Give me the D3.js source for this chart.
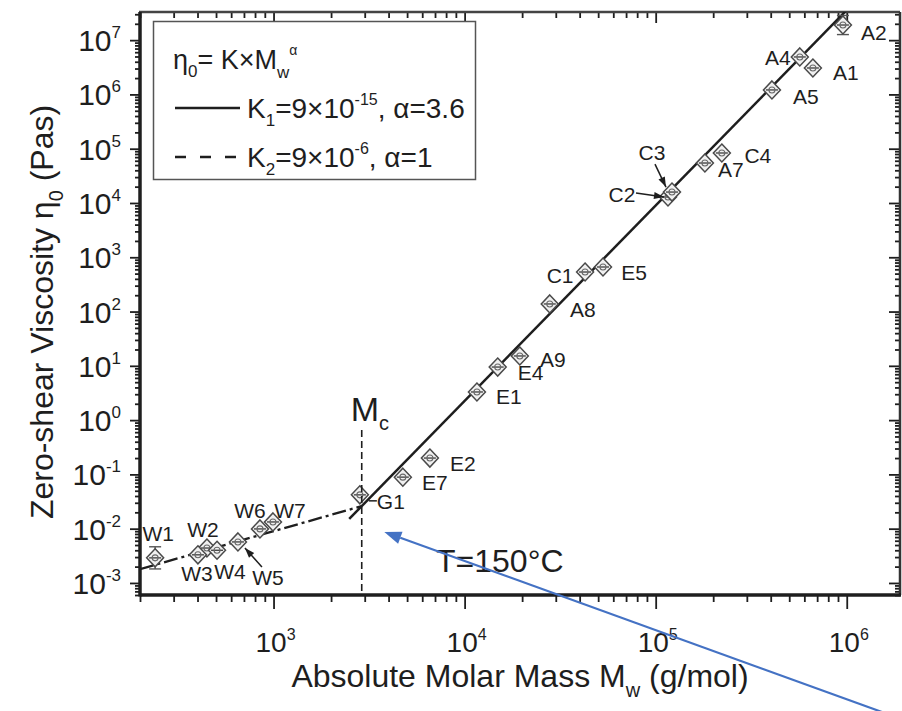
<!DOCTYPE html>
<html>
<head>
<meta charset="utf-8">
<script src="https://cdn.jsdelivr.net/npm/d3@7"></script>
<style>
  body { margin: 0; background: #fff; }
  svg { display: block; font-family: "Liberation Sans", Arial, sans-serif; }
</style>
</head>
<body>
<div id="chart"></div>
<script>
// samples
const sampleNames = ["W1", "W2", "W3", "W4", "W5", "W6", "W7", "G1", "E7", "E2", "E1", "E4",
                     "A9", "A8", "C1", "E5", "C2", "C3", "A7", "C4", "A5", "A4", "A1", "A2"];
const molarMass = [240, 448, 402, 506, 651, 849, 993, 2830, 4750, 6580, 11600, 14900,
                   19450, 27900, 42700, 53000, 116000, 121700, 181000, 222000, 406000, 568000, 665000, 955000];
const viscosity = [2.9e-3, 4.4e-3, 3.3e-3, 4.0e-3, 5.7e-3, 9.9e-3, 1.33e-2, 4.2e-2, 8.9e-2, 0.20, 3.3, 9.5,
                   15.2, 138, 535, 662, 12900, 15900, 54500, 83400, 1.21e6, 4.9e6, 3.07e6, 1.9e7];
const errorFactor = [1.6, 1, 1, 1, 1, 1, 1, 1, 1, 1, 1, 1,
                     1, 1, 1, 1, 1, 1, 1, 1, 1, 1, 1, 1.5];

// fits eta0 = K * Mw^alpha
const K1 = 9e-15, alpha1 = 3.6;
const K2 = 9e-6, alpha2 = 1;

const xTickExps = [3, 4, 5, 6];
const yTickExps = [-3, -2, -1, 0, 1, 2, 3, 4, 5, 6, 7];

// label placement (pixels from marker centre)
const labelOffset = {
  W1: [3, -24], W2: [-4, -19], W3: [-1, 19], W4: [13, 21], W5: [30, 36], W6: [-10, -18], W7: [17, -11],
  G1: [31, 7], E7: [32, 5], E2: [33, 5], E1: [32, 5], E4: [33, 5], A9: [33, 4], A8: [33, 6],
  C1: [-25, 3], E5: [31, 6], C2: [-46, -2], C3: [-20, -40], A7: [26, 6], C4: [36, 3],
  A5: [34, 7], A4: [-22, 1], A1: [33, 5], A2: [31, 7]
};
const labelArrow = { W5: [[24, 25], [7, 6]], C2: [[-32, -4], [-4, 0]], C3: [[-17, -28], [-6, -5]] };

const width = 902, height = 711;
const plot = {left: 140, right: 900, top: 12, bottom: 595};
const ink = "#1e1e1e";

const svg = d3.select("#chart").append("svg")
  .attr("width", width)
  .attr("height", height);

const x = d3.scaleLog().domain([200, 1.9e6]).range([plot.left, plot.right]);
const y = d3.scaleLog().domain([6e-4, 3.3e7]).range([plot.bottom, plot.top]);

function minorValues(scale) {
  const [a, b] = scale.domain();
  const out = [];
  for (let k = Math.floor(Math.log10(a)); k <= Math.ceil(Math.log10(b)); k++) {
    for (let m = 2; m <= 9; m++) {
      const v = m * Math.pow(10, k);
      if (v >= a && v <= b) out.push(v);
    }
  }
  return out;
}
const xMajor = xTickExps.map(e => Math.pow(10, e));
const yMajor = yTickExps.map(e => Math.pow(10, e));

svg.append("defs").append("clipPath").attr("id", "clip")
  .append("rect")
  .attr("x", plot.left).attr("y", plot.top)
  .attr("width", plot.right - plot.left).attr("height", plot.bottom - plot.top);

// ticks
function drawAxis(axis, tx, ty) {
  const g = svg.append("g")
    .attr("transform", "translate(" + tx + "," + ty + ")")
    .call(axis);
  g.select(".domain").remove();
  g.selectAll("line").attr("stroke", ink).attr("stroke-width", 1.8);
  g.selectAll("text").remove();
}
drawAxis(d3.axisBottom(x).tickValues(xMajor).tickSize(14), 0, plot.bottom);
drawAxis(d3.axisBottom(x).tickValues(minorValues(x)).tickSize(7), 0, plot.bottom);
drawAxis(d3.axisTop(x).tickValues(xMajor).tickSize(-11), 0, plot.top);
drawAxis(d3.axisTop(x).tickValues(minorValues(x)).tickSize(-6), 0, plot.top);
drawAxis(d3.axisLeft(y).tickValues(yMajor).tickSize(10), plot.left, 0);
drawAxis(d3.axisLeft(y).tickValues(minorValues(y)).tickSize(5), plot.left, 0);
drawAxis(d3.axisRight(y).tickValues(yMajor).tickSize(-11), plot.right, 0);
drawAxis(d3.axisRight(y).tickValues(minorValues(y)).tickSize(-5), plot.right, 0);

// frame
svg.append("line").attr("x1", plot.left - 1).attr("x2", plot.right).attr("y1", plot.top).attr("y2", plot.top)
  .attr("stroke", "#444").attr("stroke-width", 2.5);
svg.append("line").attr("x1", plot.right).attr("x2", plot.right).attr("y1", plot.top).attr("y2", plot.bottom)
  .attr("stroke", "#333").attr("stroke-width", 2.5);
svg.append("line").attr("x1", plot.left).attr("x2", plot.left).attr("y1", plot.top).attr("y2", plot.bottom + 1.5)
  .attr("stroke", ink).attr("stroke-width", 3.5);
svg.append("line").attr("x1", plot.left).attr("x2", plot.right + 1).attr("y1", plot.bottom).attr("y2", plot.bottom)
  .attr("stroke", ink).attr("stroke-width", 3.5);

// tick labels
const xLab = svg.append("g").attr("fill", ink);
xTickExps.forEach(e => {
  const t = xLab.append("text")
    .attr("x", x(Math.pow(10, e)) - 18)
    .attr("y", plot.bottom + 57)
    .attr("font-size", 28);
  t.append("tspan").text("10");
  t.append("tspan").attr("dy", -12).attr("font-size", 16).text(e);
});
const yLab = svg.append("g").attr("fill", ink);
yTickExps.forEach(e => {
  const t = yLab.append("text")
    .attr("x", plot.left - 19)
    .attr("y", y(Math.pow(10, e)) + 11)
    .attr("text-anchor", "end")
    .attr("font-size", 30);
  t.append("tspan").text("10");
  t.append("tspan").attr("dy", -13).attr("font-size", 17).text(e);
});

// axis titles
const xTitle = svg.append("text")
  .attr("x", (plot.left + plot.right) / 2)
  .attr("y", 687)
  .attr("text-anchor", "middle")
  .attr("font-size", 32)
  .attr("fill", ink);
xTitle.append("tspan").text("Absolute Molar Mass M");
xTitle.append("tspan").attr("dy", 10).attr("font-size", 20).text("w");
xTitle.append("tspan").attr("dy", -10).text(" (g/mol)");

const yTitle = svg.append("text")
  .attr("transform", "translate(53," + 312 + ") rotate(-90)")
  .attr("text-anchor", "middle")
  .attr("font-size", 32)
  .attr("fill", ink);
yTitle.append("tspan").text("Zero-shear Viscosity \u03b7");
yTitle.append("tspan").attr("dy", 10).attr("font-size", 20).text("0");
yTitle.append("tspan").attr("dy", -10).text(" (Pas)");

// fit lines
const Mc = Math.pow(K2 / K1, 1 / (alpha1 - alpha2));
const fitLine = d3.line().x(d => x(d[0])).y(d => y(d[1]));
const plotArea = svg.append("g").attr("clip-path", "url(#clip)");

plotArea.append("path")
  .datum([200, Mc].map(m => [m, K2 * Math.pow(m, alpha2)]))
  .attr("d", fitLine)
  .attr("fill", "none")
  .attr("stroke", ink)
  .attr("stroke-width", 2.3)
  .attr("stroke-dasharray", "14,4,3,4");

plotArea.append("path")
  .datum([Mc * 0.86, 2e6].map(m => [m, K1 * Math.pow(m, alpha1)]))
  .attr("d", fitLine)
  .attr("fill", "none")
  .attr("stroke", ink)
  .attr("stroke-width", 2.5);

// Mc marker line
svg.append("line")
  .attr("x1", x(Mc)).attr("x2", x(Mc))
  .attr("y1", 430).attr("y2", plot.bottom)
  .attr("stroke", ink).attr("stroke-width", 1.6)
  .attr("stroke-dasharray", "7,4");
const mcText = svg.append("text")
  .attr("x", x(Mc) - 11)
  .attr("y", 421)
  .attr("font-size", 34)
  .attr("fill", ink);
mcText.append("tspan").text("M");
mcText.append("tspan").attr("dy", 9).attr("font-size", 20).text("c");

// samples
const samples = sampleNames.map((name, i) => ({
  name: name, m: molarMass[i], eta: viscosity[i], err: errorFactor[i]
}));

const marks = plotArea.selectAll(".sample")
  .data(samples)
  .join("g")
  .attr("class", "sample")
  .attr("transform", d => "translate(" + x(d.m) + "," + y(d.eta) + ")");

marks.filter(d => d.err > 1).each(function(d) {
  const g = d3.select(this);
  const up = y(d.eta * d.err) - y(d.eta);
  const dn = y(d.eta / d.err) - y(d.eta);
  g.append("line").attr("x1", 0).attr("x2", 0).attr("y1", up).attr("y2", dn)
    .attr("stroke", "#555").attr("stroke-width", 1.4);
  [up, dn].forEach(v => g.append("line").attr("x1", -6).attr("x2", 6).attr("y1", v).attr("y2", v)
    .attr("stroke", "#555").attr("stroke-width", 1.4));
});
marks.append("path")
  .attr("d", "M0,-9L8.5,0L0,9L-8.5,0Z")
  .attr("fill", "#f0f0f0")
  .attr("stroke", "#4a4a4a")
  .attr("stroke-width", 1.5);
marks.append("line")
  .attr("x1", -6).attr("x2", 6).attr("y1", 0).attr("y2", 0)
  .attr("stroke", "#4a4a4a").attr("stroke-width", 1.4);
marks.append("circle")
  .attr("r", 3)
  .attr("fill", "none")
  .attr("stroke", "#6a6a6a")
  .attr("stroke-width", 1.1);

// sample labels
const labels = svg.append("g").attr("fill", ink).attr("font-size", 21);
samples.forEach(d => {
  const off = labelOffset[d.name];
  const px = x(d.m), py = y(d.eta);
  labels.append("text")
    .attr("x", px + off[0])
    .attr("y", py + off[1])
    .attr("text-anchor", "middle")
    .attr("dominant-baseline", "central")
    .text(d.name);
  const arr = labelArrow[d.name];
  if (arr) {
    const x0 = px + arr[0][0], y0 = py + arr[0][1];
    const x1 = px + arr[1][0], y1 = py + arr[1][1];
    const ang = Math.atan2(y1 - y0, x1 - x0);
    labels.append("line")
      .attr("x1", x0).attr("y1", y0).attr("x2", x1).attr("y2", y1)
      .attr("stroke", ink).attr("stroke-width", 1.5);
    const hl = 10, hw = 3.5;
    const bx = x1 - hl * Math.cos(ang), by = y1 - hl * Math.sin(ang);
    labels.append("path")
      .attr("d", "M" + x1 + "," + y1 +
        "L" + (bx - hw * Math.sin(ang)) + "," + (by + hw * Math.cos(ang)) +
        "L" + (bx + hw * Math.sin(ang)) + "," + (by - hw * Math.cos(ang)) + "Z")
      .attr("fill", ink);
  }
  if (d.name === "G1") {
    labels.append("line")
      .attr("x1", px + 9).attr("x2", px + 17).attr("y1", py + 6).attr("y2", py + 6)
      .attr("stroke", ink).attr("stroke-width", 1.5);
  }
});

// temperature note
svg.append("text")
  .attr("x", 436)
  .attr("y", 572)
  .attr("font-size", 32)
  .attr("fill", ink)
  .text("T=150\u00b0C");

// legend
const legend = svg.append("g");
legend.append("rect")
  .attr("x", 153.5).attr("y", 21.5)
  .attr("width", 322).attr("height", 158)
  .attr("fill", "#fff")
  .attr("stroke", "#555")
  .attr("stroke-width", 1.5);

const leg1 = legend.append("text").attr("x", 173).attr("y", 69).attr("font-size", 27).attr("fill", ink);
leg1.append("tspan").text("\u03b7");
leg1.append("tspan").attr("dy", 8).attr("font-size", 17).text("0");
leg1.append("tspan").attr("dy", -8).text("= K\u00d7M");
leg1.append("tspan").attr("dy", 9).attr("font-size", 17).text("w");
leg1.append("tspan").attr("dy", -23).attr("font-size", 14).text("\u03b1");

legend.append("line")
  .attr("x1", 175).attr("x2", 240).attr("y1", 108).attr("y2", 108)
  .attr("stroke", ink).attr("stroke-width", 2.5);
const leg2 = legend.append("text").attr("x", 247).attr("y", 118).attr("font-size", 28).attr("fill", ink);
leg2.append("tspan").text("K");
leg2.append("tspan").attr("dy", 8).attr("font-size", 17).text("1");
leg2.append("tspan").attr("dy", -8).text("=9\u00d710");
leg2.append("tspan").attr("dy", -13).attr("font-size", 16).text("-15");
leg2.append("tspan").attr("dy", 13).text(", \u03b1=3.6");

legend.append("line")
  .attr("x1", 175).attr("x2", 240).attr("y1", 157).attr("y2", 157)
  .attr("stroke", ink).attr("stroke-width", 2.5)
  .attr("stroke-dasharray", "11,14");
const leg3 = legend.append("text").attr("x", 247).attr("y", 167).attr("font-size", 28).attr("fill", ink);
leg3.append("tspan").text("K");
leg3.append("tspan").attr("dy", 8).attr("font-size", 17).text("2");
leg3.append("tspan").attr("dy", -8).text("=9\u00d710");
leg3.append("tspan").attr("dy", -13).attr("font-size", 16).text("-6");
leg3.append("tspan").attr("dy", 13).text(", \u03b1=1");

// blue pointer arrow
const tipM = 3800, tipEta = 8.7e-3;
const tail = [882, 712];
const tip = [x(tipM), y(tipEta)];
const ang = Math.atan2(tip[1] - tail[1], tip[0] - tail[0]);
const hl = 17, hw = 6.5;
const base = [tip[0] - hl * Math.cos(ang), tip[1] - hl * Math.sin(ang)];
svg.append("line")
  .attr("x1", tail[0]).attr("y1", tail[1]).attr("x2", base[0]).attr("y2", base[1])
  .attr("stroke", "#4472c4").attr("stroke-width", 2.2);
svg.append("path")
  .attr("d", "M" + tip[0] + "," + tip[1] +
    "L" + (base[0] - hw * Math.sin(ang)) + "," + (base[1] + hw * Math.cos(ang)) +
    "L" + (base[0] + hw * Math.sin(ang)) + "," + (base[1] - hw * Math.cos(ang)) + "Z")
  .attr("fill", "#4472c4");
</script>
</body>
</html>
